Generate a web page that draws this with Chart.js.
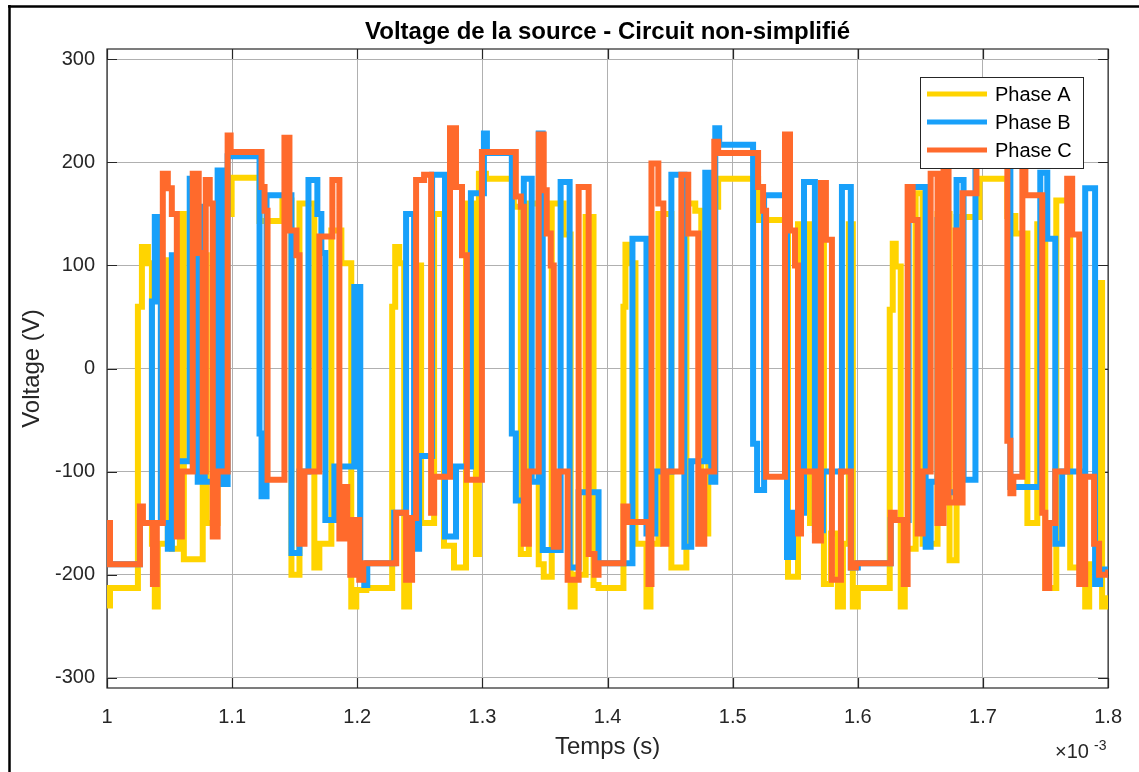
<!DOCTYPE html>
<html>
<head>
<meta charset="utf-8">
<title>Voltage de la source</title>
<script src="https://cdn.jsdelivr.net/npm/chart.js@4.4.1/dist/chart.umd.min.js"></script>
<style>
  html, body { margin: 0; padding: 0; background: #fff; }
  #wrap { width: 1139px; height: 772px; position: relative; }
</style>
</head>
<body>
<div id="wrap"><canvas id="chart" width="1139" height="772"></canvas></div>
<script>
// temps en ms (axe affiché ×10^-3 s), tension en V ; chaque point = nouveau niveau à cet instant
const tA = [1.0000, 1.0024, 1.0247, 1.0279, 1.0327, 1.0359, 1.0382, 1.0406, 1.0486, 1.0518,
            1.0582, 1.0614, 1.0765, 1.0797, 1.0884, 1.0924, 1.0996, 1.1219, 1.1402, 1.1474,
            1.1538, 1.1657, 1.1697, 1.1793, 1.1873, 1.1952, 1.1992, 1.2072, 1.2279, 1.2303,
            1.2335, 1.2375, 1.2414, 1.2478, 1.2510, 1.2614, 1.2693, 1.2773, 1.2869, 1.2948,
            1.2972, 1.3028, 1.3251, 1.3307, 1.3371, 1.3450, 1.3490, 1.3554, 1.3649, 1.3705,
            1.3737, 1.3825, 1.3888, 1.3928, 1.4127, 1.4143, 1.4183, 1.4223, 1.4311, 1.4343,
            1.4406, 1.4510, 1.4630, 1.4701, 1.4749, 1.4805, 1.4884, 1.5203, 1.5442, 1.5522,
            1.5618, 1.5665, 1.5729, 1.5785, 1.5841, 1.5881, 1.5928, 1.5960, 1.6000, 1.6255,
            1.6279, 1.6303, 1.6343, 1.6375, 1.6462, 1.6518, 1.6637, 1.6733, 1.6789, 1.6972,
            1.7195, 1.7259, 1.7355, 1.7434, 1.7498, 1.7586, 1.7697, 1.7817, 1.7849, 1.7912,
            1.7952, 1.8000];
const vA = [-230, -213, 60, 118, 102, -170, -231, -170, 105, -175,
            150, -185, 110, -150, 90, 150, 185, 143, 163, -200,
            160, -193, -170, 134, 102, -231, -215, -213, 60, 118,
            102, -231, -163, 100, -150, 150, -172, -193, 160, -180,
            189, 184, 157, -180, 160, -190, -202, 160, 130, -231,
            -200, 147, -210, -213, 60, 120, 102, -170, -231, -170,
            150, -193, 160, 153, -160, 157, 184, 144, -202, 140,
            -150, 130, -209, -160, -231, -170, 140, -231, -213, 57,
            121, 99, -231, -175, 170, -170, 150, -186, 147, 184,
            148, 131, -150, 140, -213, 163, -193, -231, -190, 83,
            -231, -220];

const tB = [1.0000, 1.0263, 1.0359, 1.0382, 1.0430, 1.0486, 1.0518, 1.0550, 1.0661, 1.0725,
            1.0741, 1.0781, 1.0884, 1.0924, 1.0964, 1.1219, 1.1235, 1.1275, 1.1474, 1.1538,
            1.1610, 1.1681, 1.1713, 1.1745, 1.1817, 1.1976, 1.2024, 1.2056, 1.2080, 1.2295,
            1.2390, 1.2454, 1.2494, 1.2598, 1.2701, 1.2789, 1.2908, 1.3012, 1.3036, 1.3235,
            1.3267, 1.3331, 1.3394, 1.3450, 1.3482, 1.3625, 1.3697, 1.3769, 1.3928, 1.4199,
            1.4311, 1.4382, 1.4510, 1.4614, 1.4669, 1.4781, 1.4829, 1.4861, 1.4892, 1.5163,
            1.5195, 1.5251, 1.5434, 1.5482, 1.5570, 1.5657, 1.5721, 1.5873, 1.5944, 1.6000,
            1.6263, 1.6406, 1.6542, 1.6582, 1.6637, 1.6677, 1.6789, 1.6845, 1.6940, 1.6972,
            1.7219, 1.7458, 1.7514, 1.7578, 1.7633, 1.7817, 1.7896, 1.7936, 1.8000];
const vB = [-190, -150, 65, 147, -150, -175, 110, -90, 184, -110,
            157, -110, 192, -112, 206, -63, -124, 168, -179, -100,
            183, 150, 112, -147, -95, 79, -204, -210, -189, -140,
            150, -175, -85, 188, -163, -95, 170, 228, 209, -63,
            -128, 184, -110, 228, -176, 181, -193, -120, -189, 126,
            -160, -100, 188, -173, -90, 190, -110, 233, 217, -73,
            -118, 168, -183, -140, 181, -157, -100, 176, -193, -189,
            -147, 176, -173, -110, 144, -120, 183, -108, 200, 212,
            -115, 190, 126, -170, -100, 175, -209, -195, -195];

const tC = [1.0000, 1.0024, 1.0263, 1.0287, 1.0367, 1.0398, 1.0446, 1.0486, 1.0518, 1.0558,
            1.0598, 1.0685, 1.0733, 1.0765, 1.0789, 1.0821, 1.0845, 1.0884, 1.0964, 1.0988,
            1.1235, 1.1259, 1.1283, 1.1418, 1.1458, 1.1514, 1.1538, 1.1578, 1.1697, 1.1801,
            1.1857, 1.1896, 1.1920, 1.1944, 1.1976, 1.2016, 1.2048, 1.2311, 1.2390, 1.2438,
            1.2470, 1.2534, 1.2590, 1.2614, 1.2741, 1.2789, 1.2837, 1.2876, 1.2996, 1.3267,
            1.3307, 1.3331, 1.3371, 1.3450, 1.3490, 1.3514, 1.3546, 1.3570, 1.3610, 1.3681,
            1.3769, 1.3849, 1.3896, 1.3928, 1.4127, 1.4159, 1.4327, 1.4351, 1.4406, 1.4446,
            1.4470, 1.4590, 1.4645, 1.4725, 1.4773, 1.4853, 1.4884, 1.5203, 1.5243, 1.5267,
            1.5418, 1.5458, 1.5498, 1.5522, 1.5546, 1.5657, 1.5705, 1.5745, 1.5793, 1.5865,
            1.5944, 1.5984, 1.6263, 1.6295, 1.6367, 1.6398, 1.6438, 1.6478, 1.6518, 1.6582,
            1.6637, 1.6685, 1.6725, 1.6781, 1.6805, 1.6837, 1.6948, 1.6972, 1.7195, 1.7219,
            1.7243, 1.7315, 1.7339, 1.7474, 1.7498, 1.7530, 1.7578, 1.7673, 1.7713, 1.7769,
            1.7817, 1.7888, 1.7928, 1.8000];
const vC = [-150, -190, -134, -150, -209, -150, 189, 175, 150, -163,
            -100, 189, 112, -100, 183, 160, -163, -100, 226, 210,
            176, 153, -108, 224, 134, 110, -170, -100, 128, 183,
            -165, -115, -147, -200, -147, -205, -189, -140, -205, -145,
            183, 188, -140, -105, 233, 176, 110, -108, 210, 167,
            157, -170, -100, 227, 173, 131, 100, -173, -100, -205,
            176, -180, -200, -189, -134, -149, -209, 199, 160, -170,
            -100, 188, 131, -170, -100, 220, 209, 176, 153, -105,
            227, 134, 100, -160, -100, -167, 180, 125, -205, -100,
            -193, -189, -140, -147, -209, 176, 144, -160, -100, 189,
            -150, 195, -130, 134, -130, 170, 200, 210, -70, -121,
            -105, 200, 168, -140, -213, -150, -100, 184, 130, -209,
            -105, -170, -200, -195];

const seriesLabels = ['Phase A', 'Phase B', 'Phase C'];
const seriesColors = ['#FFD400', '#18A0FA', '#FF6A2C'];
const xTicks = [1, 1.1, 1.2, 1.3, 1.4, 1.5, 1.6, 1.7, 1.8];
const yTicks = [-300, -200, -100, 0, 100, 200, 300];

const FONT = '"Liberation Sans", Arial, Helvetica, sans-serif';
const TXT = '#262626';

function toPoints(t, v) {
    return t.map((x, i) => ({ x: x, y: v[i] }));
}

// cadre noir de la figure, titre, légende etc. dessinés à la main (style MATLAB)
const decorPlugin = {
    id: 'decor',
    beforeDraw(chart) {
        const ctx = chart.ctx;
        ctx.save();
        ctx.fillStyle = '#fff';
        ctx.fillRect(0, 0, chart.width, chart.height);
        ctx.restore();
    },
    beforeDatasetsDraw(chart) {
        const ctx = chart.ctx;
        const a = chart.chartArea;
        const xs = chart.scales.x, ys = chart.scales.y;
        ctx.save();
        ctx.strokeStyle = TXT;
        ctx.lineWidth = 1.2;
        ctx.strokeRect(a.left, a.top, a.right - a.left, a.bottom - a.top);
        ctx.beginPath();
        xTicks.forEach(v => {
            const px = Math.round(xs.getPixelForValue(v)) + 0.5;
            ctx.moveTo(px, a.bottom); ctx.lineTo(px, a.bottom - 10);
            ctx.moveTo(px, a.top); ctx.lineTo(px, a.top + 10);
        });
        yTicks.forEach(v => {
            const py = Math.round(ys.getPixelForValue(v)) + 0.5;
            ctx.moveTo(a.left, py); ctx.lineTo(a.left + 10, py);
            ctx.moveTo(a.right, py); ctx.lineTo(a.right - 10, py);
        });
        ctx.stroke();
        ctx.restore();
    },
    afterDraw(chart) {
        const ctx = chart.ctx;
        const a = chart.chartArea;
        ctx.save();

        // bord de la figure (haut et gauche)
        ctx.strokeStyle = '#000';
        ctx.lineWidth = 2.5;
        ctx.beginPath();
        ctx.moveTo(8, 6.5); ctx.lineTo(chart.width, 6.5);
        ctx.moveTo(9.5, 5); ctx.lineTo(9.5, chart.height);
        ctx.stroke();

        ctx.fillStyle = '#000';
        ctx.font = 'bold 24px ' + FONT;
        ctx.textAlign = 'center';
        ctx.textBaseline = 'middle';
        ctx.fillText('Voltage de la source - Circuit non-simplifié', (a.left + a.right) / 2, 32);

        ctx.fillStyle = TXT;
        ctx.font = '24px ' + FONT;
        ctx.fillText('Temps (s)', (a.left + a.right) / 2, 747);

        ctx.save();
        ctx.translate(32, (a.top + a.bottom) / 2);
        ctx.rotate(-Math.PI / 2);
        ctx.fillText('Voltage (V)', 0, 0);
        ctx.restore();

        ctx.textAlign = 'left';
        ctx.textBaseline = 'alphabetic';
        ctx.font = '20px ' + FONT;
        ctx.fillText('\u00d710', 1055, 758);
        ctx.font = '14px ' + FONT;
        ctx.fillText('-3', 1094, 750);

        // légende
        const lx = 920.5, ly = 77.5, lw = 163, lh = 91;
        ctx.fillStyle = '#fff';
        ctx.fillRect(lx, ly, lw, lh);
        ctx.strokeStyle = TXT;
        ctx.lineWidth = 1;
        ctx.strokeRect(lx, ly, lw, lh);
        const rows = [94, 122, 150];
        ctx.font = '20px ' + FONT;
        ctx.textBaseline = 'middle';
        seriesLabels.forEach((lab, i) => {
            ctx.strokeStyle = seriesColors[i];
            ctx.lineWidth = 5;
            ctx.beginPath();
            ctx.moveTo(927, rows[i]); ctx.lineTo(987, rows[i]);
            ctx.stroke();
            ctx.fillStyle = '#000';
            ctx.fillText(lab, 995, rows[i] + 1);
        });
        ctx.restore();
    }
};

const ctx = document.getElementById('chart').getContext('2d');
new Chart(ctx, {
    type: 'line',
    data: {
        datasets: [
            { label: seriesLabels[0], data: toPoints(tA, vA), borderColor: seriesColors[0], order: 2 },
            { label: seriesLabels[1], data: toPoints(tB, vB), borderColor: seriesColors[1], order: 1 },
            { label: seriesLabels[2], data: toPoints(tC, vC), borderColor: seriesColors[2], order: 0 }
        ]
    },
    options: {
        responsive: false,
        devicePixelRatio: 1,
        animation: false,
        datasets: {
            line: {
                stepped: true,
                borderWidth: 6,
                pointRadius: 0,
                fill: false,
                tension: 0,
                borderJoinStyle: 'miter',
                borderCapStyle: 'butt'
            }
        },
        layout: { padding: { left: 10, right: 28, top: 49, bottom: 44 } },
        plugins: {
            legend: { display: false },
            title: { display: false },
            tooltip: { enabled: false }
        },
        scales: {
            x: {
                type: 'linear',
                min: 1,
                max: 1.8,
                afterBuildTicks: s => { s.ticks = xTicks.map(v => ({ value: v })); },
                afterFit: s => { s.height = 40; },
                ticks: {
                    autoSkip: false,
                    maxRotation: 0,
                    padding: 17,
                    color: TXT,
                    font: { family: FONT, size: 20 },
                    callback: v => String(Math.round(v * 10) / 10)
                },
                grid: { color: '#b0b0b0', lineWidth: 1, drawTicks: false },
                border: { display: false }
            },
            y: {
                type: 'linear',
                min: -310,
                max: 310,
                afterBuildTicks: s => { s.ticks = yTicks.map(v => ({ value: v })); },
                afterFit: s => { s.width = 97; },
                ticks: {
                    padding: 12,
                    color: TXT,
                    font: { family: FONT, size: 20 },
                    callback: v => String(v)
                },
                grid: { color: '#b0b0b0', lineWidth: 1, drawTicks: false },
                border: { display: false }
            }
        }
    },
    plugins: [decorPlugin]
});
</script>
</body>
</html>
